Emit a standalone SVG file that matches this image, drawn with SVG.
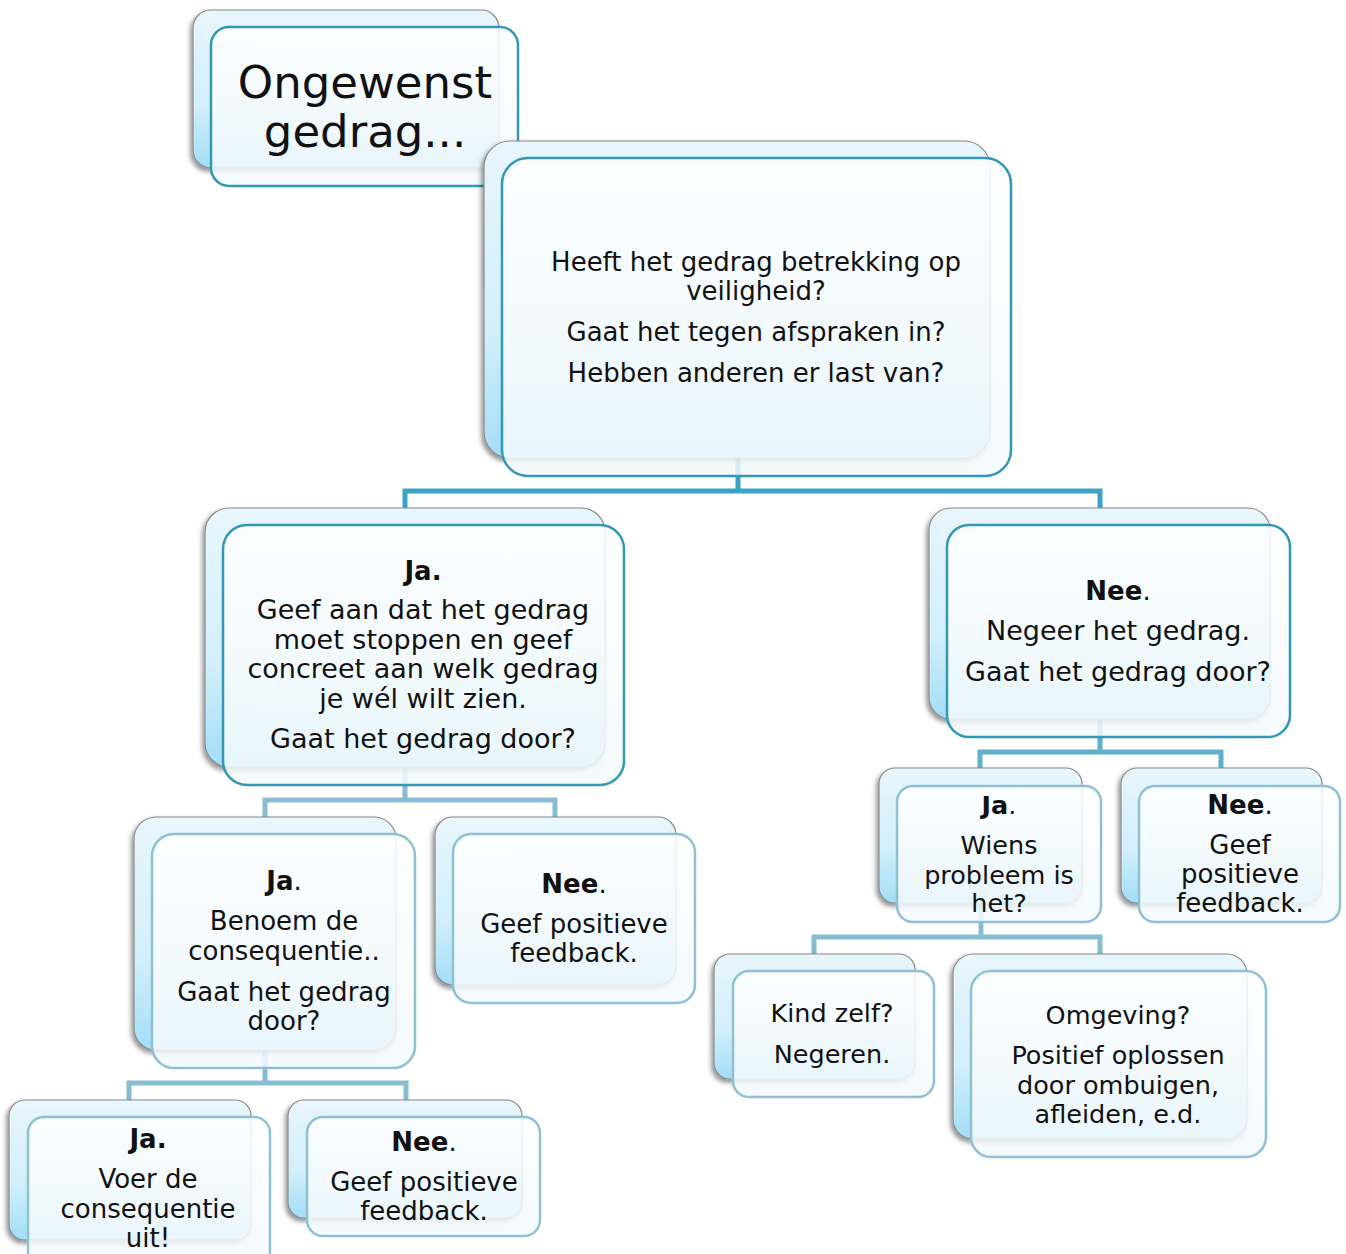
<svg xmlns="http://www.w3.org/2000/svg" width="1346" height="1254" viewBox="0 0 1346 1254">
<defs>
<linearGradient id="bg" x1="0" y1="0" x2="0" y2="1">
<stop offset="0" stop-color="#e9f6fd"/>
<stop offset="0.6" stop-color="#d2effb"/>
<stop offset="1" stop-color="#a3def7"/>
</linearGradient>
<linearGradient id="fg" x1="0" y1="0" x2="0" y2="1">
<stop offset="0" stop-color="#ffffff"/>
<stop offset="1" stop-color="#f2f9fd"/>
</linearGradient>
<filter id="sh" x="-10%" y="-10%" width="120%" height="125%">
<feDropShadow dx="-2" dy="3" stdDeviation="2.5" flood-color="#000" flood-opacity="0.45"/>
</filter>
</defs>
<style>
.back{fill:url(#bg);stroke:#8a8a8a;stroke-width:1.2;filter:url(#sh)}
.front{fill:url(#fg);fill-opacity:0.86;stroke:#3298b6;stroke-width:2.5}
.front2{fill:url(#fg);fill-opacity:0.86;stroke:#8fc1d3;stroke-width:2.5}
.c1{fill:none;stroke:#3ba4c4;stroke-width:5}
.c2{fill:none;stroke:#87bdd0;stroke-width:5}
text{font-family:"DejaVu Sans","Liberation Sans",sans-serif;fill:#111;text-anchor:middle}
.t27{font-size:27px}
.t26{font-size:26px}
.t255{font-size:25.5px}
.b{font-weight:bold}
</style>

<g id="connectors">
<path class="c1" d="M738,458 V491 M405,508 V491 H1100 V508"/>
<path class="c2" d="M405,767 V800 M265,817 V800 H555 V817"/>
<path class="c1" d="M1100,719 V752 M980,768 V752 H1221 V768" style="stroke:#5fb0c9"/>
<path class="c2" d="M265,1050 V1083 M129,1100 V1083 H406 V1100"/>
<path class="c2" d="M981,903 V937 M814,954 V937 H1100 V954"/>
</g>

<g id="n-title">
<rect class="back" x="193" y="10" width="306" height="158" rx="18"/>
<rect class="front" x="211" y="27" width="307" height="159" rx="18"/>
<text x="365" y="98" style="font-size:45px">Ongewenst</text>
<text x="365" y="147" style="font-size:45px">gedrag...</text>
</g>

<g id="n-main">
<rect class="back" x="484" y="141" width="506" height="317" rx="26"/>
<rect class="front" x="502" y="158" width="509" height="318" rx="26"/>
<text class="t26" x="756" y="271">Heeft het gedrag betrekking op</text>
<text class="t26" x="756" y="300">veiligheid?</text>
<text class="t26" x="756" y="341">Gaat het tegen afspraken in?</text>
<text class="t26" x="756" y="382">Hebben anderen er last van?</text>
</g>

<g id="n-ja1">
<rect class="back" x="205" y="508" width="400" height="259" rx="24"/>
<rect class="front" x="223" y="525" width="401" height="260" rx="24"/>
<text class="t26 b" x="423" y="580">Ja.</text>
<text class="t27" x="423" y="619">Geef aan dat het gedrag</text>
<text class="t27" x="423" y="649">moet stoppen en geef</text>
<text class="t27" x="423" y="678">concreet aan welk gedrag</text>
<text class="t27" x="423" y="708">je wél wilt zien.</text>
<text class="t27" x="423" y="748">Gaat het gedrag door?</text>
</g>

<g id="n-nee1">
<rect class="back" x="929" y="508" width="341" height="211" rx="22"/>
<rect class="front" x="947" y="525" width="343" height="212" rx="22"/>
<text class="t26" x="1118" y="600"><tspan class="b">Nee</tspan>.</text>
<text class="t27" x="1118" y="640">Negeer het gedrag.</text>
<text class="t27" x="1118" y="681">Gaat het gedrag door?</text>
</g>

<g id="n-ja2">
<rect class="back" x="134" y="817" width="262" height="233" rx="22"/>
<rect class="front2" x="152" y="834" width="263" height="234" rx="22"/>
<text class="t26" x="284" y="890"><tspan class="b">Ja</tspan>.</text>
<text class="t26" x="284" y="930">Benoem de</text>
<text class="t26" x="284" y="960">consequentie..</text>
<text class="t26" x="284" y="1001">Gaat het gedrag</text>
<text class="t26" x="284" y="1030">door?</text>
</g>

<g id="n-nee2">
<rect class="back" x="435" y="817" width="241" height="168" rx="18"/>
<rect class="front2" x="453" y="834" width="242" height="169" rx="18"/>
<text class="t26" x="574" y="893"><tspan class="b">Nee</tspan>.</text>
<text class="t26" x="574" y="933">Geef positieve</text>
<text class="t26" x="574" y="962">feedback.</text>
</g>

<g id="n-ja3">
<rect class="back" x="879" y="768" width="203" height="135" rx="16"/>
<rect class="front2" x="897" y="786" width="204" height="136" rx="16"/>
<text class="t255" x="999" y="814"><tspan class="b">Ja</tspan>.</text>
<text class="t255" x="999" y="854">Wiens</text>
<text class="t255" x="999" y="884">probleem is</text>
<text class="t255" x="999" y="912">het?</text>
</g>

<g id="n-nee3">
<rect class="back" x="1121" y="768" width="201" height="135" rx="16"/>
<rect class="front2" x="1139" y="786" width="201" height="136" rx="16"/>
<text class="t26" x="1240" y="814"><tspan class="b">Nee</tspan>.</text>
<text class="t26" x="1240" y="854">Geef</text>
<text class="t26" x="1240" y="883">positieve</text>
<text class="t26" x="1240" y="912">feedback.</text>
</g>

<g id="n-ja4">
<rect class="back" x="9" y="1100" width="242" height="140" rx="16"/>
<rect class="front2" x="28" y="1117" width="242" height="150" rx="16"/>
<text class="t26 b" x="148" y="1148">Ja.</text>
<text class="t26" x="148" y="1188">Voer de</text>
<text class="t26" x="148" y="1218">consequentie</text>
<text class="t26" x="148" y="1247">uit!</text>
</g>

<g id="n-nee4">
<rect class="back" x="288" y="1100" width="234" height="118" rx="16"/>
<rect class="front2" x="307" y="1117" width="233" height="119" rx="16"/>
<text class="t26" x="424" y="1151"><tspan class="b">Nee</tspan>.</text>
<text class="t26" x="424" y="1191">Geef positieve</text>
<text class="t26" x="424" y="1220">feedback.</text>
</g>

<g id="n-kind">
<rect class="back" x="714" y="954" width="201" height="125" rx="16"/>
<rect class="front2" x="733" y="971" width="201" height="126" rx="16"/>
<text class="t255" x="832" y="1022">Kind zelf?</text>
<text class="t255" x="832" y="1063">Negeren.</text>
</g>

<g id="n-omgeving">
<rect class="back" x="953" y="954" width="294" height="185" rx="20"/>
<rect class="front2" x="971" y="971" width="295" height="186" rx="20"/>
<text class="t255" x="1118" y="1024">Omgeving?</text>
<text class="t255" x="1118" y="1064">Positief oplossen</text>
<text class="t255" x="1118" y="1094">door ombuigen,</text>
<text class="t255" x="1118" y="1123">afleiden, e.d.</text>
</g>
</svg>
